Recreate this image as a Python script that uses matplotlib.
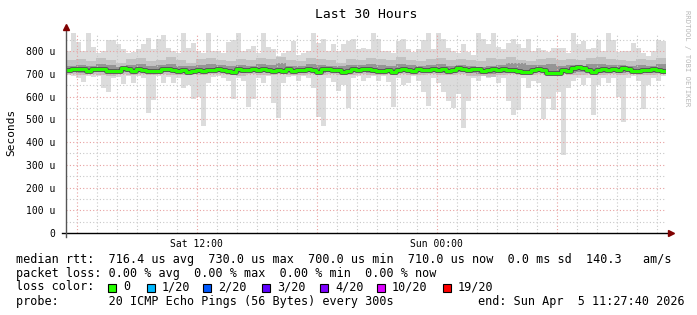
import numpy as np
import matplotlib
matplotlib.use('Agg')
import matplotlib.pyplot as plt
from matplotlib.patches import Rectangle
from datetime import datetime

plt.rcParams['font.family'] = ['DejaVu Sans Mono']

W, H = 697, 315

# time axis: 30 hours ending Sun Apr 5 11:27:40 2026, 15 min bins
start = datetime(2026, 4, 4, 5, 27, 40)
end = datetime(2026, 4, 5, 11, 27, 40)
bin_hours = 0.25

# median rtt per 15 min bin (us)
median = [718, 721, 722, 722, 714, 720, 721, 720, 714, 712, 712, 726, 720, 712, 722,
          718, 712, 711, 714, 722, 722, 718, 714, 718, 710, 712, 718, 712, 716, 718,
          720, 718, 712, 708, 722, 716, 718, 720, 718, 721, 718, 712, 716, 712, 720,
          714, 716, 718, 722, 718, 708, 720, 720, 716, 718, 710, 712, 722, 716, 720,
          720, 718, 714, 712, 716, 710, 718, 720, 718, 714, 720, 716, 718, 722, 718,
          720, 714, 716, 726, 722, 718, 720, 722, 714, 718, 720, 716, 720, 718, 716,
          712, 710, 708, 716, 720, 718, 706, 702, 704, 716, 714, 726, 730, 726, 718,
          708, 716, 720, 718, 720, 716, 724, 722, 712, 714, 718, 718, 720, 716, 712]

# max ping per bin (top of the smoke)
rtt_max = [800, 879, 840, 800, 879, 820, 790, 800, 850, 850, 830, 810, 790, 795, 810,
           830, 860, 810, 855, 870, 815, 800, 790, 878, 815, 835, 800, 790, 879, 800,
           800, 790, 840, 850, 879, 800, 810, 825, 790, 879, 820, 810, 780, 790, 800,
           845, 785, 790, 800, 879, 835, 855, 800, 830, 800, 830, 845, 855, 810, 815,
           810, 879, 855, 800, 800, 790, 845, 855, 810, 795, 810, 850, 879, 810, 879,
           855, 815, 800, 790, 830, 795, 785, 879, 855, 830, 879, 820, 810, 835, 855,
           830, 815, 855, 800, 815, 805, 795, 815, 815, 815, 790, 879, 830, 845, 810,
           815, 850, 800, 879, 850, 795, 800, 800, 835, 815, 790, 780, 800, 850, 845]

# min ping per bin (bottom of the smoke)
rtt_min = [695, 690, 680, 665, 690, 685, 690, 640, 620, 680, 685, 655, 690, 660, 690,
           680, 528, 585, 690, 660, 685, 660, 680, 640, 650, 590, 600, 470, 660, 685,
           690, 680, 670, 590, 680, 670, 555, 590, 680, 660, 690, 570, 505, 660, 685,
           690, 670, 690, 680, 640, 510, 470, 680, 665, 625, 650, 550, 680, 690, 670,
           680, 690, 670, 690, 665, 555, 680, 650, 660, 690, 670, 620, 560, 680, 660,
           620, 580, 550, 610, 462, 580, 680, 670, 690, 680, 685, 660, 680, 580, 520,
           540, 680, 640, 670, 660, 500, 590, 540, 620, 343, 640, 670, 680, 650, 680,
           520, 650, 680, 660, 680, 600, 490, 680, 690, 670, 545, 650, 680, 670, 690]

# inner smoke per 30 min bin
p90 = [760, 765, 755, 770, 760, 750, 765, 770, 755, 760, 775, 760, 750, 765, 770,
       760, 755, 765, 760, 770, 765, 775, 760, 755, 770, 765, 760, 750, 765, 760,
       770, 765, 760, 775, 760, 755, 765, 770, 760, 765, 760, 755, 770, 765, 775,
       760, 755, 765, 770, 760, 765, 760, 770, 775, 765, 760, 755, 765, 760, 770]
p10 = [698, 695, 700, 697, 693, 699, 696, 700, 694, 698, 697, 695, 699, 694, 698,
       700, 696, 693, 698, 697, 695, 699, 697, 694, 700, 696, 698, 695, 697, 699,
       696, 694, 698, 700, 695, 697, 699, 694, 696, 698, 692, 690, 688, 694, 698,
       697, 695, 699, 696, 698, 694, 697, 699, 695, 698, 696, 700, 697, 695, 698]
p75 = [736, 740, 734, 742, 738, 732, 740, 744, 736, 738, 745, 737, 733, 740, 742,
       738, 735, 741, 737, 743, 739, 746, 737, 735, 742, 740, 736, 733, 740, 738,
       742, 739, 737, 745, 738, 735, 740, 743, 737, 739, 734, 732, 735, 740, 746,
       748, 740, 738, 742, 737, 740, 737, 742, 745, 740, 738, 734, 740, 737, 742]
p25 = [708, 706, 710, 707, 704, 709, 707, 710, 705, 708, 707, 706, 709, 705, 708,
       710, 706, 704, 708, 707, 706, 709, 707, 705, 710, 706, 708, 706, 707, 709,
       706, 705, 708, 710, 706, 707, 709, 705, 706, 708, 702, 699, 698, 704, 710,
       714, 706, 709, 706, 708, 705, 707, 709, 706, 708, 706, 710, 707, 705, 708]

yticks = [0, 100, 200, 300, 400, 500, 600, 700, 800]
ytick_labels = ['0', '100 u', '200 u', '300 u', '400 u', '500 u', '600 u', '700 u', '800 u']

loss_labels = ['0', '1/20', '2/20', '3/20', '4/20', '10/20', '19/20']
loss_colors = ['#26ff00', '#00b8ff', '#0059ff', '#5e00ff', '#7e00ff', '#dd00ff', '#ff0000']
loss_box_x = [108, 147, 203, 262, 320, 377, 443]

fig = plt.figure(figsize=(W / 100, H / 100), dpi=100)
fig.patch.set_facecolor('white')
ax = fig.add_axes([66 / W, 82 / H, 600 / W, 200 / H])
ax.set_facecolor('white')

total_h = (end - start).total_seconds() / 3600
ax.set_xlim(0, total_h)
ax.set_ylim(0, 880)

# step edges
n = len(median)
x15 = np.arange(n + 1) * bin_hours
x30 = np.arange(len(p90) + 1) * 0.5

def ext(a):
    return list(a) + [a[-1]]

ax.fill_between(x15, ext(rtt_min), ext(rtt_max), step='post', color='#dcdcdc', lw=0, zorder=1)
ax.fill_between(x30, ext(p10), ext(p90), step='post', color='#c2c2c2', lw=0, zorder=1.2)
ax.fill_between(x30, ext(p25), ext(p75), step='post', color='#959595', lw=0, zorder=1.4)

# grid (drawn over the smoke like rrdtool)
offset = (datetime(2026, 4, 4, 6, 0, 0) - start).total_seconds() / 3600
for k in range(31):
    xv = offset + k
    if xv > total_h:
        break
    major = (k % 6 == 0)
    ax.axvline(xv, color='#e8a0a0' if major else '#c8c8c8', lw=0.8,
               ls=(0, (1, 2)), zorder=2)
for yv in range(50, 880, 50):
    major = (yv % 100 == 0)
    ax.axhline(yv, color='#e8a0a0' if major else '#c8c8c8', lw=0.8,
               ls=(0, (1, 2)), zorder=2)

# median line
ax.step(x15, ext(median), where='post', color='#505050', lw=3.4, zorder=3)
ax.step(x15, ext(median), where='post', color='#26ff00', lw=2.2, zorder=4)

for s in ax.spines.values():
    s.set_visible(False)

ax.set_yticks(yticks)
ax.set_yticklabels(ytick_labels)
xt = [offset + 6, offset + 18]
ax.set_xticks(xt)
ax.set_xticklabels(['Sat 12:00', 'Sun 00:00'])
ax.tick_params(axis='both', length=0, labelsize=7, colors='black')
ax.tick_params(axis='y', pad=8)
ax.tick_params(axis='x', pad=4)

# axes with arrows
ax.plot([-0.2, total_h + 0.2], [0, 0], color='black', lw=1.0, clip_on=False, zorder=5)
ax.plot([total_h + 0.25], [0], marker='>', color='#800000', ms=4, clip_on=False, zorder=6)
ax.plot([0, 0], [-18, 900], color='#555555', lw=1.0, clip_on=False, zorder=5)
ax.plot([0], [905], marker='^', color='#800000', ms=4, clip_on=False, zorder=6)

fig.text(11 / W, 1 - 132 / H, 'Seconds', rotation=90, ha='center', va='center', fontsize=8)
fig.text(366 / W, 1 - 14 / H, 'Last 30 Hours', ha='center', va='center', fontsize=9.4)
fig.text(687 / W, 1 - 58 / H, 'RRDTOOL / TOBI OETIKER', rotation=270, ha='center',
         va='center', fontsize=5.2, color='#b8b8b8')

fs = 8.5
fig.text(16 / W, 1 - 260 / H,
         'median rtt:  716.4 us avg  730.0 us max  700.0 us min  710.0 us now  0.0 ms sd  140.3   am/s',
         ha='left', va='center', fontsize=fs)
fig.text(16 / W, 1 - 273.5 / H,
         'packet loss: 0.00 % avg  0.00 % max  0.00 % min  0.00 % now',
         ha='left', va='center', fontsize=fs)
fig.text(16 / W, 1 - 287 / H, 'loss color:', ha='left', va='center', fontsize=fs)
for lab, col, bx in zip(loss_labels, loss_colors, loss_box_x):
    fig.patches.append(Rectangle((bx / W, 1 - 291.5 / H), 8 / W, 8 / H,
                                 facecolor=col, edgecolor='black', lw=0.8,
                                 transform=fig.transFigure, figure=fig))
    fig.text((bx + 15) / W, 1 - 287 / H, lab, ha='left', va='center', fontsize=fs)
fig.text(16 / W, 1 - 301 / H, 'probe:       20 ICMP Echo Pings (56 Bytes) every 300s',
         ha='left', va='center', fontsize=fs)
fig.text(478 / W, 1 - 301 / H, 'end: Sun Apr  5 11:27:40 2026',
         ha='left', va='center', fontsize=fs)

fig.savefig('out.png', dpi=100, facecolor='white')
